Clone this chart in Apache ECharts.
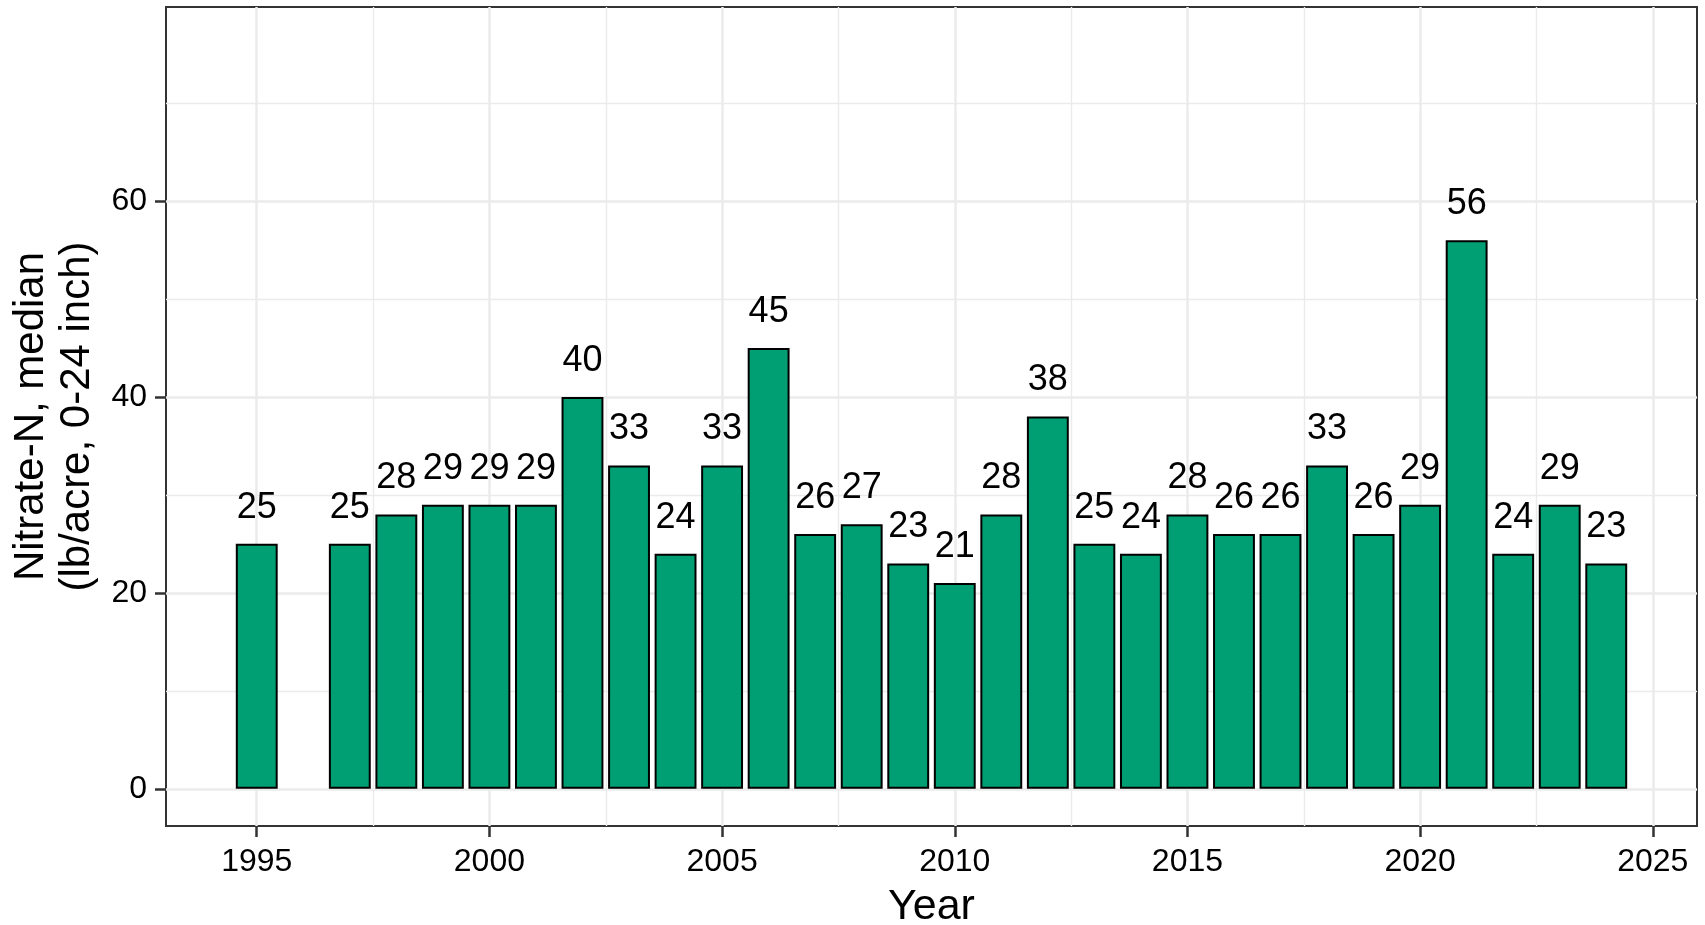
<!DOCTYPE html>
<html>
<head>
<meta charset="utf-8">
<script src="https://cdn.jsdelivr.net/npm/echarts@6/dist/echarts.min.js"></script>
<style>
  html, body { margin: 0; padding: 0; background: #fff; }
  #chart { width: 1705px; height: 925px; }
</style>
</head>
<body>
<div id="chart"></div>
<script>
// data
const years = [1995, 1997, 1998, 1999, 2000, 2001, 2002, 2003, 2004, 2005, 2006, 2007, 2008, 2009,
  2010, 2011, 2012, 2013, 2014, 2015, 2016, 2017, 2018, 2019, 2020, 2021, 2022, 2023, 2024]
const nitrate = [25, 25, 28, 29, 29, 29, 40, 33, 24, 33, 45, 26, 27, 23,
  21, 28, 38, 25, 24, 28, 26, 26, 33, 26, 29, 56, 24, 29, 23]

// axis ticks
const xMajorTicks = [1995, 2000, 2005, 2010, 2015, 2020, 2025]
const xMinorTicks = [1997.5, 2002.5, 2007.5, 2012.5, 2017.5, 2022.5]
const yMajorTicks = [0, 20, 40, 60]
const yMinorTicks = [10, 30, 50, 70]

// ggplot-like expanded ranges
const xMin = 1993.05
const xMax = 2025.95
const yMin = -3.8
const yMax = 79.8

const gridLeft = 166
const gridRight = 8
const gridTop = 7
const gridBottom = 99
const font = 'Liberation Sans, Arial, sans-serif'

const chart = echarts.init(document.getElementById('chart'))
const plotWidth = 1705 - gridLeft - gridRight
const barWidth = 0.9 * plotWidth / (xMax - xMin)

const gridLine = '#ebebeb'

const option = {
  animation: false,
  grid: {
    left: gridLeft,
    right: gridRight,
    top: gridTop,
    bottom: gridBottom,
    outerBoundsMode: 'none',
    containLabel: false,
    show: true,
    borderColor: '#333333',
    borderWidth: 2,
    backgroundColor: '#fff'
  },
  xAxis: [
    {
      type: 'value',
      min: xMin,
      max: xMax,
      name: 'Year',
      nameLocation: 'middle',
      nameGap: 60,
      nameTextStyle: { fontSize: 43, color: '#000', fontFamily: font },
      axisLine: { show: false, onZero: false },
      axisTick: {
        show: true,
        length: 11,
        customValues: xMajorTicks,
        lineStyle: { color: '#333333', width: 2.5 }
      },
      axisLabel: {
        customValues: xMajorTicks,
        formatter: v => String(v),
        margin: 20,
        fontSize: 32,
        color: '#000',
        fontFamily: font
      },
      splitLine: { show: true, lineStyle: { color: gridLine, width: 2.5 } }
    },
    {
      type: 'value',
      min: xMin,
      max: xMax,
      axisLine: { show: false, onZero: false },
      axisTick: { show: false, customValues: xMinorTicks },
      axisLabel: { show: false },
      splitLine: { show: true, lineStyle: { color: gridLine, width: 1.4 } }
    }
  ],
  yAxis: [
    {
      type: 'value',
      min: yMin,
      max: yMax,
      name: 'Nitrate-N, median\n(lb/acre, 0-24 inch)',
      nameLocation: 'middle',
      nameGap: 54,
      nameRotate: 90,
      nameTextStyle: { fontSize: 42, lineHeight: 46, color: '#000', fontFamily: font, align: 'center' },
      axisLine: { show: false, onZero: false },
      axisTick: {
        show: true,
        length: 11,
        customValues: yMajorTicks,
        lineStyle: { color: '#333333', width: 2.5 }
      },
      axisLabel: {
        customValues: yMajorTicks,
        margin: 19,
        fontSize: 32,
        color: '#000',
        fontFamily: font
      },
      splitLine: { show: true, lineStyle: { color: gridLine, width: 2.5 } }
    },
    {
      type: 'value',
      min: yMin,
      max: yMax,
      axisLine: { show: false, onZero: false },
      axisTick: { show: false, customValues: yMinorTicks },
      axisLabel: { show: false },
      splitLine: { show: true, lineStyle: { color: gridLine, width: 1.4 } }
    }
  ],
  series: [{
    type: 'bar',
    xAxisIndex: 0,
    yAxisIndex: 0,
    barWidth: barWidth,
    data: years.map((y, i) => [y, nitrate[i]]),
    itemStyle: {
      color: '#009E73',
      borderColor: '#000',
      borderWidth: 2
    },
    label: {
      show: true,
      position: 'top',
      distance: 18,
      fontSize: 36,
      color: '#000',
      fontFamily: font,
      formatter: p => p.value[1]
    }
  }]
}

chart.setOption(option)
</script>
</body>
</html>
